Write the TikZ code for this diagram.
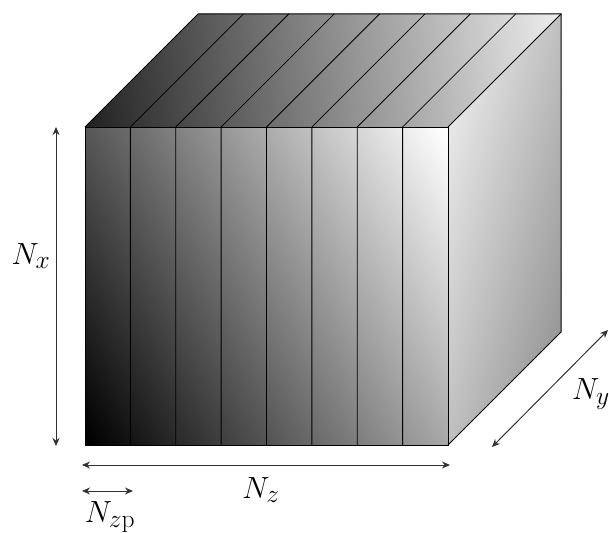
\documentclass[tikz,border=0pt]{standalone}
\usepackage{amsmath,amssymb}
\usetikzlibrary{arrows.meta}
\pgfdeclarehorizontalshading{sideramp}{100bp}{color(0bp)=(black!47); color(36.7bp)=(black!47); color(63.6bp)=(black!2); color(100bp)=(black!2)}

\begin{document}
\begin{tikzpicture}[
    x=1pt, y=-1pt,
    >={Stealth[length=8pt,width=7pt]},
    edge/.style={draw=black, line width=1pt},
    dim/.style={<->, draw=black!80, line width=1pt},
    tag/.style={font=\Huge, scale=1.23, inner sep=0pt},
  ]
  \useasboundingbox (0,0) rectangle (609,532);

  %% ---------------- corners of the block ----------------
  \coordinate (fTL) at (85,127);
  \coordinate (fTR) at (448,127);
  \coordinate (fBR) at (448,445);
  \coordinate (fBL) at (85,445);
  \coordinate (bTL) at (198,14);
  \coordinate (bTR) at (561,14);
  \coordinate (bBR) at (561,332);

  %% ---------------- shaded faces ----------------
  \begin{scope}
    \clip (fTL) -- (fTR) -- (fBR) -- (fBL) -- cycle;
    \shade[top color=white, bottom color=black, shading angle=-59]
      (33.5,53) rectangle (499.5,519);
  \end{scope}
  \begin{scope}
    \clip (fTL) -- (fTR) -- (bTR) -- (bTL) -- cycle;
    \shade[top color=black!5, bottom color=black!89, shading angle=-82]
      (67,-185.5) rectangle (579,326.5);
  \end{scope}
  \begin{scope}
    \clip (fTR) -- (bTR) -- (bBR) -- (fBR) -- cycle;
    \shade[shading=sideramp, shading angle=165]
      (289,14) rectangle (720,445);
  \end{scope}

  %% ---------------- slices ----------------
  \foreach \i in {1,...,7} {
    \coordinate (s\i) at ({85+\i*45.375},127);
    \coordinate (t\i) at ({198+\i*45.375},14);
    \coordinate (u\i) at ({85+\i*45.375},445);
    \draw[edge, line width=0.8pt] (u\i) -- (s\i) -- (t\i);
  }
  \draw[edge] (fTL) -- (fTR) -- (fBR) -- (fBL) -- cycle;
  \draw[edge] (fTL) -- (bTL) -- (bTR) -- (bBR) -- (fBR);
  \draw[edge] (fTR) -- (bTR);

  %% ---------------- dimensions ----------------
  \coordinate (xa) at (56,127);
  \coordinate (xb) at (56,446);
  \coordinate (za) at (82,465);
  \coordinate (zb) at (450,465);
  \coordinate (pa) at (82,491);
  \coordinate (pb) at (133,491);
  \coordinate (ya) at (492,447);
  \coordinate (yb) at (608,330);
  \draw[dim] (xa) -- (xb);
  \draw[dim] (za) -- (zb);
  \draw[dim] (pa) -- (pb);
  \draw[dim] (ya) -- (yb);

  \node[tag] (Nx) at (31,256) {$N_x$};
  \node[tag] (Nz) at (261,490) {$N_z$};
  \node[tag] (Np) at (110,517) {$N_{z\mathrm{p}}$};
  \node[tag] (Ny) at (591,394) {$N_y$};
\end{tikzpicture}
\end{document}
